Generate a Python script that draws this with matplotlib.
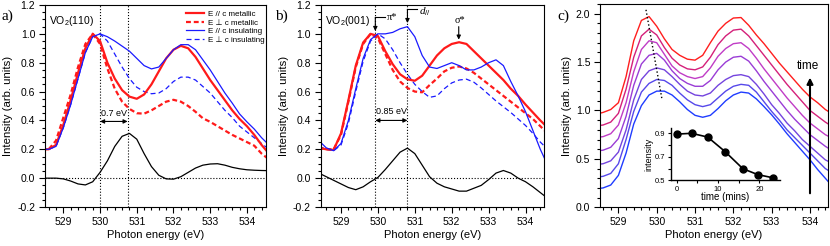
import matplotlib
matplotlib.use('Agg')
import matplotlib.pyplot as plt
from matplotlib.ticker import MultipleLocator, FormatStrFormatter

plt.rcParams['font.family'] = ['Liberation Sans', 'DejaVu Sans']
plt.rcParams['axes.unicode_minus'] = False
plt.rcParams['mathtext.fontset'] = 'custom'
plt.rcParams['mathtext.rm'] = 'Liberation Sans'
plt.rcParams['mathtext.it'] = 'Liberation Serif:italic'
plt.rcParams['mathtext.default'] = 'regular'

# photon energy grid (eV) shared by all spectra
energy = [528.4, 528.6, 528.8, 529.0, 529.2, 529.4, 529.6, 529.8,
          530.0, 530.2, 530.4, 530.6, 530.8, 531.0, 531.2, 531.4,
          531.6, 531.8, 532.0, 532.2, 532.4, 532.6, 532.8, 533.0,
          533.2, 533.4, 533.6, 533.8, 534.0, 534.2, 534.4, 534.6]

# panel a) VO2(110)
a_met_par = [0.20, 0.20, 0.23, 0.37, 0.54, 0.73, 0.90, 1.00,
             0.95, 0.80, 0.69, 0.61, 0.565, 0.55, 0.58, 0.65,
             0.74, 0.83, 0.89, 0.917, 0.90, 0.84, 0.76, 0.68,
             0.61, 0.54, 0.47, 0.41, 0.36, 0.30, 0.23, 0.17]
a_met_perp = [0.20, 0.20, 0.26, 0.42, 0.58, 0.77, 0.93, 1.00,
              0.93, 0.76, 0.62, 0.53, 0.48, 0.45, 0.447, 0.47,
              0.50, 0.53, 0.543, 0.53, 0.50, 0.46, 0.415, 0.39,
              0.36, 0.33, 0.30, 0.275, 0.25, 0.225, 0.17, 0.13]
a_ins_par = [0.20, 0.20, 0.22, 0.35, 0.51, 0.69, 0.87, 0.98,
             1.00, 0.98, 0.95, 0.915, 0.88, 0.83, 0.78, 0.757,
             0.77, 0.83, 0.89, 0.925, 0.925, 0.89, 0.82, 0.75,
             0.67, 0.59, 0.52, 0.445, 0.39, 0.34, 0.28, 0.23]
a_ins_perp = [0.20, 0.20, 0.22, 0.35, 0.51, 0.69, 0.87, 0.98,
              1.00, 0.95, 0.86, 0.77, 0.69, 0.63, 0.60, 0.585,
              0.59, 0.62, 0.67, 0.70, 0.70, 0.68, 0.635, 0.59,
              0.53, 0.47, 0.42, 0.36, 0.32, 0.28, 0.24, 0.20]
a_diff = [0.0, 0.0, 0.0, -0.005, -0.02, -0.04, -0.047, -0.025,
          0.04, 0.12, 0.22, 0.29, 0.31, 0.27, 0.17, 0.08,
          0.02, -0.005, -0.007, 0.01, 0.04, 0.07, 0.09, 0.098,
          0.10, 0.09, 0.075, 0.065, 0.058, 0.055, 0.053, 0.052]

# panel b) VO2(001)
b_met_par = [0.21, 0.20, 0.196, 0.31, 0.54, 0.78, 0.94, 1.00,
             0.985, 0.88, 0.79, 0.72, 0.685, 0.675, 0.71, 0.78,
             0.85, 0.90, 0.93, 0.942, 0.93, 0.88, 0.83, 0.78,
             0.73, 0.68, 0.62, 0.57, 0.51, 0.455, 0.40, 0.35]
b_met_perp = [0.21, 0.20, 0.20, 0.30, 0.53, 0.77, 0.93, 1.00,
              0.97, 0.86, 0.75, 0.67, 0.625, 0.60, 0.595, 0.645,
              0.69, 0.74, 0.765, 0.774, 0.76, 0.73, 0.69, 0.65,
              0.61, 0.57, 0.53, 0.49, 0.45, 0.41, 0.36, 0.31]
b_ins_par = [0.26, 0.21, 0.19, 0.24, 0.40, 0.62, 0.83, 0.96,
             1.00, 1.00, 1.01, 1.035, 1.05, 0.98, 0.85, 0.77,
             0.76, 0.78, 0.80, 0.78, 0.75, 0.75, 0.77, 0.80,
             0.82, 0.78, 0.67, 0.57, 0.46, 0.33, 0.20, 0.09]
b_ins_perp = [0.22, 0.20, 0.19, 0.23, 0.38, 0.60, 0.81, 0.95,
              1.00, 0.965, 0.89, 0.80, 0.72, 0.65, 0.60, 0.56,
              0.57, 0.62, 0.66, 0.68, 0.686, 0.665, 0.625, 0.58,
              0.535, 0.495, 0.455, 0.41, 0.365, 0.31, 0.25, 0.20]
b_diff = [0.035, 0.01, -0.015, -0.04, -0.065, -0.08, -0.06, -0.025,
          0.005, 0.06, 0.12, 0.18, 0.208, 0.17, 0.09, 0.01,
          -0.035, -0.06, -0.075, -0.09, -0.09, -0.07, -0.05, -0.01,
          0.035, 0.053, 0.035, 0.0, -0.025, -0.06, -0.10, -0.14]

# panel c) spectra vs time (first = red, last = blue)
c_t1 = [0.96, 0.98, 1.01, 1.08, 1.35, 1.72, 1.93, 1.97,
        1.87, 1.74, 1.63, 1.57, 1.53, 1.52, 1.57, 1.70,
        1.82, 1.90, 1.955, 1.96, 1.88, 1.78, 1.69, 1.59,
        1.49, 1.40, 1.31, 1.22, 1.14, 1.08, 1.01, 0.96]
c_t2 = [0.84, 0.85, 0.88, 0.97, 1.22, 1.55, 1.77, 1.84,
        1.78, 1.65, 1.54, 1.47, 1.43, 1.42, 1.45, 1.55,
        1.68, 1.77, 1.83, 1.84, 1.77, 1.67, 1.57, 1.47,
        1.37, 1.27, 1.18, 1.09, 1.00, 0.94, 0.88, 0.83]
c_t3 = [0.72, 0.73, 0.76, 0.85, 1.08, 1.40, 1.63, 1.72,
        1.70, 1.58, 1.46, 1.39, 1.35, 1.33, 1.35, 1.44,
        1.56, 1.64, 1.69, 1.70, 1.64, 1.54, 1.43, 1.33,
        1.23, 1.13, 1.04, 0.95, 0.87, 0.81, 0.75, 0.71]
c_t4 = [0.58, 0.59, 0.62, 0.71, 0.94, 1.26, 1.48, 1.57,
        1.59, 1.52, 1.41, 1.33, 1.28, 1.25, 1.25, 1.31,
        1.42, 1.50, 1.55, 1.56, 1.51, 1.41, 1.30, 1.20,
        1.10, 1.00, 0.91, 0.83, 0.75, 0.69, 0.63, 0.58]
c_t5 = [0.44, 0.45, 0.48, 0.57, 0.80, 1.11, 1.32, 1.41,
        1.44, 1.42, 1.35, 1.27, 1.20, 1.16, 1.15, 1.18,
        1.26, 1.32, 1.36, 1.37, 1.35, 1.27, 1.17, 1.06,
        0.97, 0.87, 0.79, 0.70, 0.63, 0.56, 0.49, 0.45]
c_t6 = [0.31, 0.32, 0.35, 0.45, 0.70, 0.99, 1.19, 1.28,
        1.32, 1.31, 1.26, 1.18, 1.11, 1.06, 1.04, 1.06,
        1.13, 1.20, 1.25, 1.27, 1.26, 1.19, 1.09, 0.99,
        0.90, 0.80, 0.72, 0.64, 0.56, 0.48, 0.40, 0.35]
c_t7 = [0.19, 0.20, 0.23, 0.33, 0.56, 0.86, 1.05, 1.16,
        1.20, 1.20, 1.16, 1.09, 1.01, 0.95, 0.93, 0.95,
        1.02, 1.10, 1.16, 1.19, 1.18, 1.12, 1.04, 0.955,
        0.86, 0.76, 0.67, 0.58, 0.49, 0.39, 0.30, 0.21]
c_colors = ['#ff1e1e', '#d4207a', '#c03cc6', '#9a3cd6', '#7444de', '#5648ea', '#1f3cff']

# inset: pi* intensity vs time
inset_time = [0.0, 3.6, 7.5, 11.7, 16.0, 19.6, 23.4]
inset_int = [0.893, 0.900, 0.868, 0.745, 0.600, 0.550, 0.522]

RED = '#ff1a1a'
BLUE = '#1a1aff'
SERIF = ['Liberation Serif', 'DejaVu Serif']


def style_axis(ax, xlim, ylim, ymaj, ymin):
    ax.set_xlim(*xlim)
    ax.set_ylim(*ylim)
    ax.xaxis.set_major_locator(MultipleLocator(1))
    ax.xaxis.set_minor_locator(MultipleLocator(0.2))
    ax.yaxis.set_major_locator(MultipleLocator(ymaj))
    ax.yaxis.set_minor_locator(MultipleLocator(ymin))
    ax.yaxis.set_major_formatter(FormatStrFormatter('%.1f'))
    ax.tick_params(which='both', direction='out', top=False, right=False,
                   labelsize=7.5, width=0.8, pad=3)
    ax.tick_params(which='major', length=4)
    ax.tick_params(which='minor', length=2.5)
    ax.set_xlabel('Photon energy (eV)', fontsize=8, labelpad=2)
    ax.set_ylabel('Intensity (arb. units)', fontsize=8.2, labelpad=3)
    for sp in ax.spines.values():
        sp.set_linewidth(0.8)


def double_arrow(ax, x0, x1, y, label, ytext):
    ax.annotate('', xy=(x0, y), xytext=(x1, y),
                arrowprops=dict(arrowstyle='<|-|>', color='k', lw=0.8,
                                mutation_scale=6, shrinkA=0, shrinkB=0))
    ax.text((x0 + x1) / 2, ytext, label, fontsize=6.5, ha='center', va='center')


fig = plt.figure(figsize=(8.3, 2.46), dpi=100)
ax_a = fig.add_axes([0.0542, 0.1585, 0.2663, 0.8212])
ax_b = fig.add_axes([0.3864, 0.1585, 0.2690, 0.8212])
ax_c = fig.add_axes([0.7229, 0.1573, 0.2747, 0.8265])

# ---- a)
ax_a.axhline(0, color='k', ls=':', lw=0.8)
for xv in (530.0, 530.75):
    ax_a.axvline(xv, color='k', ls=':', lw=0.8)
ax_a.plot(energy, a_met_perp, color=RED, lw=1.6, dashes=(2.2, 1.3), label='E \u22a5 c metallic')
ax_a.plot(energy, a_ins_perp, color=BLUE, lw=0.9, dashes=(4, 2.5), label='E \u22a5 c insulating')
ax_a.plot(energy, a_met_par, color=RED, lw=1.6, label='E // c metallic')
ax_a.plot(energy, a_ins_par, color=BLUE, lw=0.9, label='E // c insulating')
ax_a.plot(energy, a_diff, color='k', lw=0.9)
double_arrow(ax_a, 530.0, 530.75, 0.393, '0.7 eV', 0.45)
ax_a.text(0.018, 0.955, 'VO$_2$(110)', transform=ax_a.transAxes, fontsize=7.5, va='top')
handles, labels = ax_a.get_legend_handles_labels()
order = [2, 0, 3, 1]
ax_a.legend([handles[i] for i in order], [labels[i] for i in order],
            loc='upper right', fontsize=5.8, frameon=False, handlelength=2.2,
            labelspacing=0.1, handletextpad=0.5, borderaxespad=0.3,
            bbox_to_anchor=(1.02, 1.0))
style_axis(ax_a, (528.5, 534.52), (-0.2, 1.2), 0.2, 0.05)

# ---- b)
ax_b.axhline(0, color='k', ls=':', lw=0.8)
for xv in (529.93, 530.8):
    ax_b.axvline(xv, color='k', ls=':', lw=0.8)
ax_b.plot(energy, b_met_perp, color=RED, lw=1.6, dashes=(2.2, 1.3))
ax_b.plot(energy, b_ins_perp, color=BLUE, lw=0.9, dashes=(4, 2.5))
ax_b.plot(energy, b_met_par, color=RED, lw=1.6)
ax_b.plot(energy, b_ins_par, color=BLUE, lw=0.9)
ax_b.plot(energy, b_diff, color='k', lw=0.9)
double_arrow(ax_b, 529.93, 530.8, 0.40, '0.85 eV', 0.46)
ax_b.text(0.018, 0.955, 'VO$_2$(001)', transform=ax_b.transAxes, fontsize=7.5, va='top')
arrow_kw = dict(arrowstyle='-|>', color='k', lw=0.8, mutation_scale=6, shrinkA=0, shrinkB=0)
# pi*
ax_b.plot([529.93, 530.2], [1.115, 1.115], color='k', lw=0.8)
ax_b.annotate('', xy=(529.93, 1.02), xytext=(529.93, 1.115), arrowprops=arrow_kw)
ax_b.text(530.25, 1.11, '\u03c0*', fontsize=7.5, family=SERIF, va='center')
# d//
ax_b.plot([530.8, 531.05], [1.17, 1.17], color='k', lw=0.8)
ax_b.annotate('', xy=(530.8, 1.075), xytext=(530.8, 1.17), arrowprops=arrow_kw)
ax_b.text(531.1, 1.155, r'$\mathit{d}_{//}$', fontsize=8, va='center')
# sigma*
ax_b.annotate('', xy=(532.19, 0.96), xytext=(532.19, 1.05), arrowprops=arrow_kw)
ax_b.text(532.22, 1.09, '\u03c3*', fontsize=7.5, family=SERIF, ha='center', va='center')
style_axis(ax_b, (528.45, 534.5), (-0.2, 1.2), 0.2, 0.05)

# ---- c)
for series, col in zip([c_t1, c_t2, c_t3, c_t4, c_t5, c_t6, c_t7], c_colors):
    ax_c.plot(energy, series, color=col, lw=1.0)
ax_c.plot([529.72, 530.14], [2.04, 1.11], color='k', ls=':', lw=1.0)
ax_c.annotate('', xy=(534.0, 1.34), xytext=(534.0, 0.145),
              arrowprops=dict(arrowstyle='-|>', color='k', lw=1.5,
                              mutation_scale=9, shrinkA=0, shrinkB=0))
ax_c.text(533.95, 1.46, 'time', fontsize=8.5, ha='center', va='center')
style_axis(ax_c, (528.52, 534.47), (0.0, 2.1), 0.5, 0.1)

# inset
ax_in = fig.add_axes([0.8081, 0.2663, 0.1317, 0.2134])
ax_in.plot(inset_time, inset_int, color='k', lw=1.2, marker='o', ms=5)
ax_in.set_xlim(-1.45, 25.0)
ax_in.set_ylim(0.5, 0.945)
ax_in.spines['top'].set_visible(False)
ax_in.spines['right'].set_visible(False)
for sp in ('left', 'bottom'):
    ax_in.spines[sp].set_linewidth(1.0)
ax_in.set_xticks([0, 10, 20])
ax_in.set_xticks([5, 15], minor=True)
ax_in.set_yticks([0.5, 0.7, 0.9])
ax_in.set_yticks([0.6, 0.8], minor=True)
ax_in.yaxis.set_major_formatter(FormatStrFormatter('%.1f'))
ax_in.tick_params(which='both', direction='out', labelsize=5.5, length=2.5, width=0.8, pad=1.5)
ax_in.set_xlabel('time (mins)', fontsize=7, labelpad=-1)
ax_in.set_ylabel('intensity', fontsize=6.5, labelpad=1)
ax_in.patch.set_alpha(0)

# panel letters
fig.text(0.002, 0.935, 'a)', fontsize=11, family=SERIF, va='center')
fig.text(0.331, 0.935, 'b)', fontsize=11, family=SERIF, va='center')
fig.text(0.671, 0.935, 'c)', fontsize=11, family=SERIF, va='center')

fig.savefig('out.png', dpi=100)
